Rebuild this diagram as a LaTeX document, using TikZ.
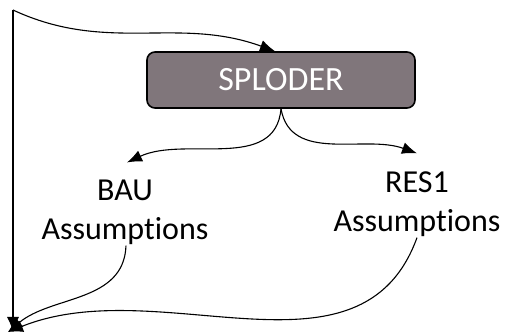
\documentclass[tikz,border=0pt]{standalone}
\usepackage{fontspec}
\setmainfont{Carlito}[RawFeature=-liga]
\usepackage{tikz}
\usetikzlibrary{arrows.meta, positioning}
\definecolor{boxMauve}{RGB}{128, 118, 123}

\begin{document}
\begin{tikzpicture}[
    x=1pt, y=-1pt,
    % Node styles
    model/.style={
        rectangle,
        rounded corners=8pt,
        minimum width=268pt,
        minimum height=56pt,
        text centered,
        font=\fontsize{34}{40}\selectfont,
        text=white,
        fill=boxMauve,
        draw=black,
        line width=1.6pt
    },
    scenario/.style={
        align=center,
        inner sep=1pt,
        font=\fontsize{32}{39}\selectfont,
        text=black
    },
    arrow/.style={
        -{Latex[length=15pt,width=12pt]},
        line width=1.1pt,
        color=black
    }
]
\useasboundingbox (0,0) rectangle (507,334);

% Nodes
\node[model] (sploder) at (281,80) {SPLODER};
\node[scenario] (bau) at (125,212) {BAU\\Assumptions};
\node[scenario] (res1) at (417,204) {RES1\\Assumptions};

% Corner and sink
\coordinate (corner) at (13,10);
\coordinate (sink) at (8,332);

% Arrows
\draw[arrow] (sploder.south) to[out=-95,in=25] ([xshift=2pt,yshift=16pt]bau.north);
\draw[arrow] (sploder.south) to[out=-80,in=160] ([yshift=17pt]res1.north);
\draw[arrow] (corner) to[out=-25,in=160] ([xshift=-6pt]sploder.north);
\draw[arrow] (corner) -- ([xshift=5pt]sink);
\draw[arrow] ([xshift=1pt]bau.south) to[out=-92,in=40] (sink);
\draw[arrow] (res1.south) to[out=-110,in=22] (sink);

\end{tikzpicture}
\end{document}
